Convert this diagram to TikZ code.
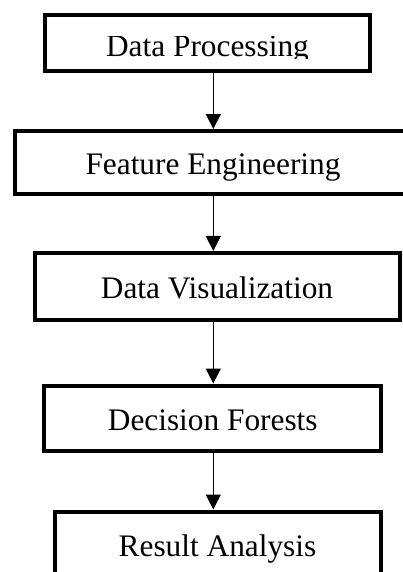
\documentclass[tikz,border=0pt]{standalone}
\usepackage{fontspec}
\setmainfont{Liberation Serif}
\usepackage{trimclip}
\usetikzlibrary{arrows.meta}

\tikzset{
  every stage/.style={draw, line width=3pt, inner sep=0pt,
    text height=18pt, text depth=0pt,
    font=\fontsize{23.5}{28}\selectfont},
  flow/.style={->, line width=0.75pt},
}

\begin{document}
\begin{tikzpicture}[x=0.75pt, y=0.75pt, >={Triangle[width=11.25pt,length=11.25pt]}]
\useasboundingbox (0,0) rectangle (403,572);
\clip (0,0) rectangle (403,572);

\coordinate (axis) at (213.3,0);

\node [every stage/.try, minimum width=243.75pt, minimum height=41.5pt, text height=21pt]
  (stage-1) at (207.5,529) {\clipbox{0pt 4.3pt 0pt 0pt}{Data Processing}};
\node [every stage/.try, minimum width=297.75pt, minimum height=47.6pt]
  (stage-2) at (213,409.25) {Feature Engineering};
\node [every stage/.try, minimum width=273.75pt, minimum height=49.9pt]
  (stage-3) at (217,285.75) {Data Visualization};
\node [every stage/.try, minimum width=252.4pt, minimum height=49.1pt]
  (stage-4) at (212.75,153.75) {Decision Forests};
\node [every stage/.try, minimum width=244.5pt, minimum height=49.1pt, text height=19pt]
  (stage-5) at (217.5,27.75) {Result Analysis};

\foreach \i/\j in {1/2,2/3,3/4,4/5}
  \draw [flow] (stage-\i.south -| axis) -- (stage-\j.north -| axis);

\end{tikzpicture}
\end{document}
